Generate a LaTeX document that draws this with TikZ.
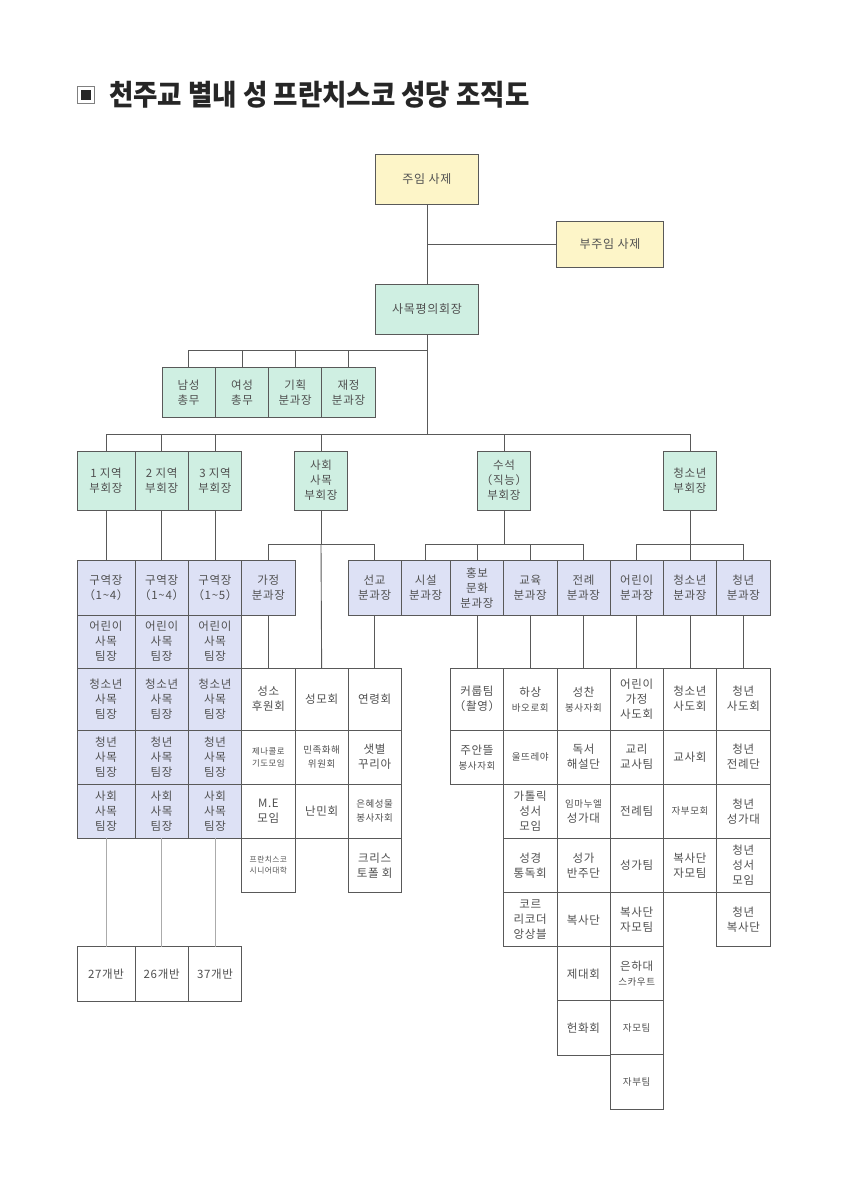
\documentclass[tikz,border=0pt]{standalone}
\usepackage{fontspec}
\setmainfont{Noto Sans CJK KR}
\newfontfamily\cjk{Noto Sans CJK KR}[LetterSpace=6]
\newfontfamily\titlefont{Noto Sans CJK KR}[FakeStretch=0.92]
\usetikzlibrary{positioning}
\definecolor{ylw}{HTML}{FDF5C8}
\definecolor{grn}{HTML}{CFEFE2}
\definecolor{blu}{HTML}{DDE1F5}
\definecolor{linegray}{HTML}{595959}
\definecolor{textgray}{HTML}{505050}
\definecolor{lightline}{HTML}{ABABAB}
\newcommand{\sm}[1]{{\fontsize{9.5}{15}\selectfont #1}}
\tikzset{
  cell/.style={draw=linegray, line width=1pt, inner sep=1pt, outer sep=0pt,
    align=center, text=textgray, font=\cjk\fontsize{11.5}{15}\selectfont,
    minimum width=53.3pt, minimum height=54.2pt},
  yellowcell/.style={cell, fill=ylw},
  greencell/.style={cell, fill=grn},
  bluecell/.style={cell, fill=blu},
  whitecell/.style={cell, fill=white},
  toprow/.style={minimum height=61.7pt},
  smalltext/.style={font=\cjk\fontsize{9.5}{14}\selectfont},
  minitext/.style={font=\cjk\fontsize{8.4}{12}\selectfont},
  link/.style={draw=linegray, line width=0.9pt},
}
\begin{document}
\begin{tikzpicture}[x=1pt,y=-1pt]
  \useasboundingbox[fill=white] (0,0) rectangle (848,1200);
  % title
  \draw[gray, line width=0.8pt] (77,86.5) rectangle (94,103.5);
  \fill[black!85] (80.5,90) rectangle (90.5,100);
  \node[anchor=west, inner sep=0pt, text=black!85,
    font=\titlefont\bfseries\fontsize{28.8}{30}\selectfont] (title) at (109,95)
    {천주교 별내 성 프란치스코 성당 조직도};

  % top
  \node[yellowcell, minimum width=103pt, minimum height=50pt, font=\cjk\fontsize{12}{15}\selectfont] (jumin) at (427,179.5) {주임 사제};
  \node[yellowcell, minimum width=106.6pt, minimum height=46pt, font=\cjk\fontsize{12}{15}\selectfont] (bujumin) at (610,244) {부주임 사제};
  \node[greencell, minimum width=103pt, minimum height=50pt, font=\cjk\fontsize{12}{15}\selectfont] (sapyeong) at (427,309) {사목평의회장};
  \draw[link] (jumin.south) -- (sapyeong.north);
  \draw[link] (bujumin.west) -- (bujumin.west -| jumin.south);

  % chongmu
  \node[greencell, minimum height=49.5pt] (namseong) at (188.65,392.5) {남성\\총무};
  \node[greencell, minimum height=49.5pt] (yeoseong) at (241.95,392.5) {여성\\총무};
  \node[greencell, minimum height=49.5pt] (gihoek) at (295.25,392.5) {기획\\분과장};
  \node[greencell, minimum height=49.5pt] (jaejeong) at (348.55,392.5) {재정\\분과장};
  \coordinate (chongmubus) at (427,350.7);
  \draw[link] (sapyeong.south) -- (chongmubus);
  \foreach \n in {namseong, yeoseong, gihoek, jaejeong}
    \draw[link] (\n.north) |- (chongmubus);

  % buhoejang
  \node[greencell, minimum width=58pt, minimum height=59.3pt] (jiyeok1) at (106,480.65) {1 지역\\부회장};
  \node[greencell, minimum height=59.3pt] (jiyeok2) at (161.65,480.65) {2 지역\\부회장};
  \node[greencell, minimum height=59.3pt] (jiyeok3) at (215,480.65) {3 지역\\부회장};
  \node[greencell, minimum height=59.3pt] (sahoe) at (321,480.65) {사회\\사목\\부회장};
  \node[greencell, minimum height=59.3pt] (suseok) at (504,480.65) {수석\\（직능）\\부회장};
  \node[greencell, minimum height=59.3pt] (cheongso) at (690,480.65) {청소년\\부회장};
  \coordinate (mainbus) at (427,434);
  \draw[link] (chongmubus) -- (mainbus);
  \foreach \n in {jiyeok1, jiyeok2, jiyeok3, sahoe, suseok, cheongso}
    \draw[link] (\n.north) |- (mainbus);

  % bungwajang
  \node[bluecell] (gajeong) at (268.35,588) {가정\\분과장};
  \node[bluecell, minimum width=52.7pt] (seongyo) at (374.65,588) {선교\\분과장};
  \node[bluecell, minimum width=49.5pt] (siseol) at (425.75,588) {시설\\분과장};
  \node[bluecell, minimum width=53pt] (hongbo) at (477,588) {홍보\\문화\\분과장};
  \node[bluecell, minimum width=53.5pt] (gyoyuk) at (530.25,588) {교육\\분과장};
  \node[bluecell, minimum width=53pt] (jeonrye) at (583.5,588) {전례\\분과장};
  \node[bluecell] (eorini) at (636.65,588) {어린이\\분과장};
  \node[bluecell, minimum width=53.4pt] (cheongsonyeon) at (690,588) {청소년\\분과장};
  \node[bluecell] (cheongnyeon) at (743.35,588) {청년\\분과장};
  \coordinate (sahoebus) at (321,544.3);
  \coordinate (suseokbus) at (504,544.3);
  \coordinate (cheongsobus) at (690,544.3);
  \draw[link] (sahoe.south) -- (sahoebus);
  \draw[link] (suseok.south) -- (suseokbus);
  \draw[link] (cheongso.south) -- (cheongsobus);
  \foreach \n in {gajeong, seongyo}
    \draw[link] (\n.north) |- (sahoebus);
  \foreach \n in {siseol, hongbo, gyoyuk, jeonrye}
    \draw[link] (\n.north) |- (suseokbus);
  \foreach \n in {eorini, cheongsonyeon, cheongnyeon}
    \draw[link] (\n.north) |- (cheongsobus);

  % guyeok columns
  \foreach \x/\w/\m/\b [count=\i] in {106/58/4/27, 161.65/53.3/4/26, 215/53.4/5/37} {
    \node[bluecell, minimum width=\w pt] (guyeok\i) at (\x,588) {구역장\\（1\textasciitilde\m{}）};
    \node[bluecell, minimum width=\w pt, minimum height=53.3pt] (eorinit\i) at (\x,641.65) {어린이\\사목\\팀장};
    \node[bluecell, minimum width=\w pt, toprow] (cheongsot\i) at (\x,699.15) {청소년\\사목\\팀장};
    \node[bluecell, minimum width=\w pt, minimum height=54.3pt] (cheongt\i) at (\x,757.15) {청년\\사목\\팀장};
    \node[bluecell, minimum width=\w pt] (sahoet\i) at (\x,811.3) {사회\\사목\\팀장};
    \node[whitecell, minimum width=\w pt, minimum height=54.3pt] (ban\i) at (\x,973.85) {\b{}개반};
    \draw[link] (jiyeok\i.south) -- (guyeok\i.north);
    \draw[link, draw=lightline] (sahoet\i.south) -- (ban\i.north);
  }

  % sahoe samok groups
  \node[whitecell, toprow] (seongso) at (268.35,699.15) {성소\\후원회};
  \node[whitecell, toprow] (seongmo) at (321.65,699.15) {성모회};
  \node[whitecell, toprow, minimum width=52.7pt] (yeonryeong) at (374.65,699.15) {연령회};
  \node[whitecell, minimum height=54.3pt, minitext] (cenacolo) at (268.35,757.15) {제나콜로\\기도모임};
  \node[whitecell, minimum height=54.3pt, smalltext] (minhwa) at (321.65,757.15) {민족화해\\위원회};
  \node[whitecell, minimum height=54.3pt, minimum width=52.7pt] (saetbyeol) at (374.65,757.15) {샛별\\꾸리아};
  \node[whitecell] (me) at (268.35,811.3) {M.E\\모임};
  \node[whitecell] (nanmin) at (321.65,811.3) {난민회};
  \node[whitecell, minimum width=52.7pt, smalltext] (eunhye) at (374.65,811.3) {은혜성물\\봉사자회};
  \node[whitecell, minimum height=54.4pt, font=\cjk\fontsize{7.7}{11}\selectfont] (senior) at (268.35,865.5) {프란치스코\\시니어대학};
  \node[whitecell, minimum height=54.4pt, minimum width=52.7pt] (christopher) at (374.65,865.5) {크리스\\토폴 회};
  \draw[link] (gajeong.south) -- (seongso.north);
  \draw[link] (sahoebus) -- (seongmo.north);
  \draw[link] (seongyo.south) -- (yeonryeong.north);

  % hongbo
  \node[whitecell, toprow, minimum width=53pt] (curup) at (477,699.15) {커룹팀\\（촬영）};
  \node[whitecell, minimum width=53pt] (juan) at (477,757.15) {주안뜰\\\sm{봉사자회}};
  % gyoyuk
  \node[whitecell, toprow, minimum width=53.5pt] (hasang) at (530.25,699.15) {하상\\\sm{바오로회}};
  \node[whitecell, minimum width=53.5pt, smalltext] (ultreya) at (530.25,757.15) {울뜨레야};
  \node[whitecell, minimum width=53.5pt] (seongseo) at (530.25,811.3) {가톨릭\\성서\\모임};
  \node[whitecell, minimum width=53.5pt] (tongdok) at (530.25,865.5) {성경\\통독회};
  \node[whitecell, minimum width=53.5pt] (recorder) at (530.25,919.7) {코르\\리코더\\앙상블};
  % jeonrye
  \node[whitecell, toprow, minimum width=53pt] (seongchan) at (583.5,699.15) {성찬\\\sm{봉사자회}};
  \node[whitecell, minimum width=53pt] (dokseo) at (583.5,757.15) {독서\\해설단};
  \node[whitecell, minimum width=53pt] (emmanuel) at (583.5,811.3) {\sm{임마누엘}\\성가대};
  \node[whitecell, minimum width=53pt] (banju) at (583.5,865.5) {성가\\반주단};
  \node[whitecell, minimum width=53pt] (boksa) at (583.5,919.7) {복사단};
  \node[whitecell, minimum width=53pt] (jedae) at (583.5,973.85) {제대회};
  \node[whitecell, minimum width=53pt] (heonhwa) at (583.5,1028) {헌화회};
  % eorini
  \node[whitecell, toprow] (eorinisado) at (636.65,699.15) {어린이\\가정\\사도회};
  \node[whitecell] (gyori) at (636.65,757.15) {교리\\교사팀};
  \node[whitecell] (jeonryeteam) at (636.65,811.3) {전례팀};
  \node[whitecell] (seonggateam) at (636.65,865.5) {성가팀};
  \node[whitecell] (boksajamo) at (636.65,919.7) {복사단\\자모팀};
  \node[whitecell] (scout) at (636.65,973.85) {은하대\\\sm{스카우트}};
  \node[whitecell, smalltext] (jamo) at (636.65,1028) {자모팀};
  \node[whitecell, smalltext] (jabu) at (636.65,1082) {자부팀};
  % cheongsonyeon
  \node[whitecell, toprow, minimum width=53.4pt] (cheongsosado) at (690,699.15) {청소년\\사도회};
  \node[whitecell, minimum width=53.4pt] (gyosa) at (690,757.15) {교사회};
  \node[whitecell, minimum width=53.4pt, smalltext] (jabumo) at (690,811.3) {자부모회};
  \node[whitecell, minimum width=53.4pt] (boksajamo2) at (690,865.5) {복사단\\자모팀};
  % cheongnyeon
  \node[whitecell, toprow] (cheongsado) at (743.35,699.15) {청년\\사도회};
  \node[whitecell] (cheongjeonrye) at (743.35,757.15) {청년\\전례단};
  \node[whitecell] (cheongseongga) at (743.35,811.3) {청년\\성가대};
  \node[whitecell] (cheongseongseo) at (743.35,865.5) {청년\\성서\\모임};
  \node[whitecell] (cheongboksa) at (743.35,919.7) {청년\\복사단};

  \draw[link] (hongbo.south) -- (curup.north);
  \draw[link] (gyoyuk.south) -- (hasang.north);
  \draw[link] (jeonrye.south) -- (seongchan.north);
  \draw[link] (eorini.south) -- (eorinisado.north);
  \draw[link] (cheongsonyeon.south) -- (cheongsosado.north);
  \draw[link] (cheongnyeon.south) -- (cheongsado.north);
\end{tikzpicture}
\end{document}
